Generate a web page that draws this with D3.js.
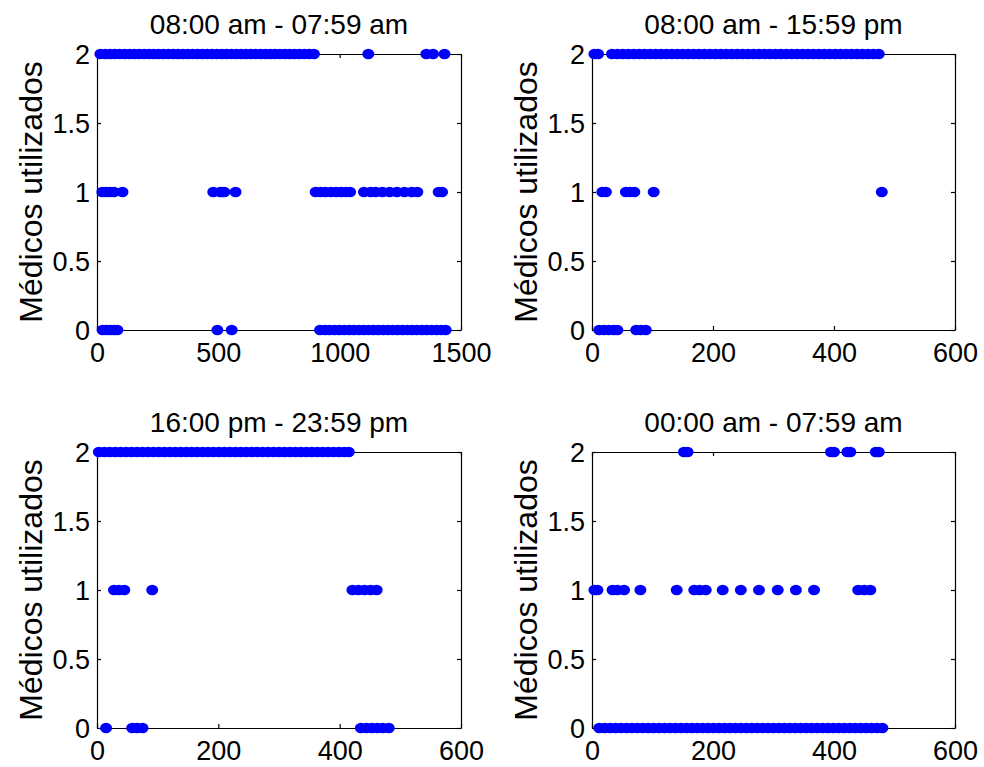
<!DOCTYPE html>
<html><head><meta charset="utf-8">
<script src="https://cdn.jsdelivr.net/npm/d3@7"></script>
<style>body{margin:0;background:#fff}svg{display:block}</style>
</head><body><svg id="c" width="984" height="767"></svg>
<script>
// ---- data ----
const titles = ["08:00 am - 07:59 am", "08:00 am - 15:59 pm", "16:00 pm - 23:59 pm", "00:00 am - 07:59 am"];
const yLabelText = "Médicos utilizados";
const yTickValues = [0, 0.5, 1, 1.5, 2];
const yTickLabels = ["0", "0.5", "1", "1.5", "2"];
const xTicksDay = [0, 500, 1000, 1500];
const xTicksShift = [0, 200, 400, 600];
const xMaxDay = 1500;
const xMaxShift = 600;

// full day (08:00 - 07:59)
const day_y2 = [14,34,54,74,94,114,134,154,174,194,214,234,254,274,294,314,334,354,374,394,414,434,454,474,494,514,534,554,574,594,614,634,654,674,694,714,734,754,774,794,814,834,854,874,894,1118,1357,1385,1432];
const day_y1 = [22,38,55,70,105,479,508,517,525,571,901,921,941,964,985,1005,1025,1043,1100,1128,1148,1176,1206,1236,1267,1297,1320,1408,1422];
const day_y0 = [23,40,55,70,84,496,555,919,939,959,979,999,1019,1039,1059,1079,1099,1119,1139,1159,1179,1199,1219,1239,1259,1279,1299,1319,1339,1359,1379,1399,1419,1437];

// 08:00 - 15:59
const m_y2 = [4,10,33,42,51,60,69,78,87,96,105,114,123,132,141,150,159,168,177,186,195,204,213,222,231,240,249,258,267,276,285,294,303,312,321,330,339,348,357,366,375,384,393,402,411,420,429,438,447,456,465,474];
const m_y1 = [17,23,56,63,70,102,479];
const m_y0 = [12,20,28,36,42,73,81,89];

// 16:00 - 23:59
const a_y2 = [3,12,21,30,39,48,57,66,75,84,93,102,111,120,129,138,147,156,165,174,183,192,201,210,219,228,237,246,255,264,273,282,291,300,309,318,327,336,345,354,363,372,381,390,399,408,415];
const a_y1 = [28,36,45,91,421,431,441,451,461];
const a_y0 = [15,58,66,75,435,444,453,462,471,481];

// 00:00 - 07:59
const n_y2 = [152,158,395,400,422,427,469,474];
const n_y1 = [4,9,34,42,53,80,140,169,178,188,216,246,276,307,337,367,440,450,460];
const n_y0 = [12,21,30,39,48,57,66,75,84,93,102,111,120,129,138,147,156,165,174,183,192,201,210,219,228,237,246,255,264,273,282,291,300,309,318,327,336,345,354,363,372,381,390,399,408,417,426,435,444,453,462,471,480];

// ---- layout ----
const FONT = "'Liberation Sans', Arial, sans-serif";
const FS_TICK = 27, FS_TITLE = 28, FS_YLAB = 32;
const panels = [
  {title: titles[0], xMax: xMaxDay, xTicks: xTicksDay, series: [[2, day_y2],[1, day_y1],[0, day_y0]], box: {l: 97, r: 461, t: 54, b: 330}},
  {title: titles[1], xMax: xMaxShift, xTicks: xTicksShift, series: [[2, m_y2],[1, m_y1],[0, m_y0]], box: {l: 592, r: 955, t: 54, b: 330}},
  {title: titles[2], xMax: xMaxShift, xTicks: xTicksShift, series: [[2, a_y2],[1, a_y1],[0, a_y0]], box: {l: 97, r: 461, t: 452, b: 728}},
  {title: titles[3], xMax: xMaxShift, xTicks: xTicksShift, series: [[2, n_y2],[1, n_y1],[0, n_y0]], box: {l: 592, r: 955, t: 452, b: 728}}
];

const svg = d3.select("#c");
svg.append("rect").attr("width", 984).attr("height", 767).attr("fill", "#fff");

panels.forEach(p => {
  const {l, r, t, b} = p.box;
  const x = d3.scaleLinear().domain([0, p.xMax]).range([l, r]);
  const y = d3.scaleLinear().domain([0, 2]).range([b, t]);
  const g = svg.append("g");
  const tl = 4;

  const axB = d3.axisBottom(x).tickValues(p.xTicks).tickSizeInner(-tl).tickSizeOuter(0).tickPadding(13).tickFormat(d3.format("d"));
  const axT = d3.axisTop(x).tickValues(p.xTicks).tickSizeInner(-tl).tickSizeOuter(0).tickFormat("");
  const axL = d3.axisLeft(y).tickValues(yTickValues).tickSizeInner(-tl).tickSizeOuter(0).tickPadding(7).tickFormat((d, i) => yTickLabels[i]);
  const axR = d3.axisRight(y).tickValues(yTickValues).tickSizeInner(-tl).tickSizeOuter(0).tickFormat("");

  const gB = g.append("g").attr("transform", `translate(0,${b})`).call(axB);
  const gT = g.append("g").attr("transform", `translate(0,${t})`).call(axT);
  const gL = g.append("g").attr("transform", `translate(${l},0)`).call(axL);
  const gR = g.append("g").attr("transform", `translate(${r},0)`).call(axR);
  [gB, gT, gL, gR].forEach(a => {
    a.selectAll("path.domain").attr("stroke", "#000").attr("stroke-width", 1.2);
    a.selectAll(".tick line").attr("stroke", "#000").attr("stroke-width", 1.2);
    a.selectAll("text").attr("font-family", FONT).attr("font-size", FS_TICK).attr("fill", "#000");
  });
  gB.selectAll("text").attr("dy", "0.71em");
  gL.selectAll("text").attr("dy", "0.35em");

  // title
  g.append("text").attr("x", (l + r) / 2).attr("y", t - 20)
    .attr("text-anchor", "middle").attr("font-family", FONT).attr("font-size", FS_TITLE).text(p.title);

  // y label
  g.append("text").attr("transform", `translate(${l - 55},${(t + b) / 2}) rotate(-90)`)
    .attr("text-anchor", "middle").attr("font-family", FONT).attr("font-size", FS_YLAB).text(yLabelText);

  // markers
  p.series.forEach(([lvl, xs]) => {
    g.append("g").selectAll("ellipse").data(xs).join("ellipse")
      .attr("cx", d => x(d)).attr("cy", y(lvl))
      .attr("rx", 6).attr("ry", 5.3).attr("fill", "#0000ff");
  });
});
</script>
</body></html>
